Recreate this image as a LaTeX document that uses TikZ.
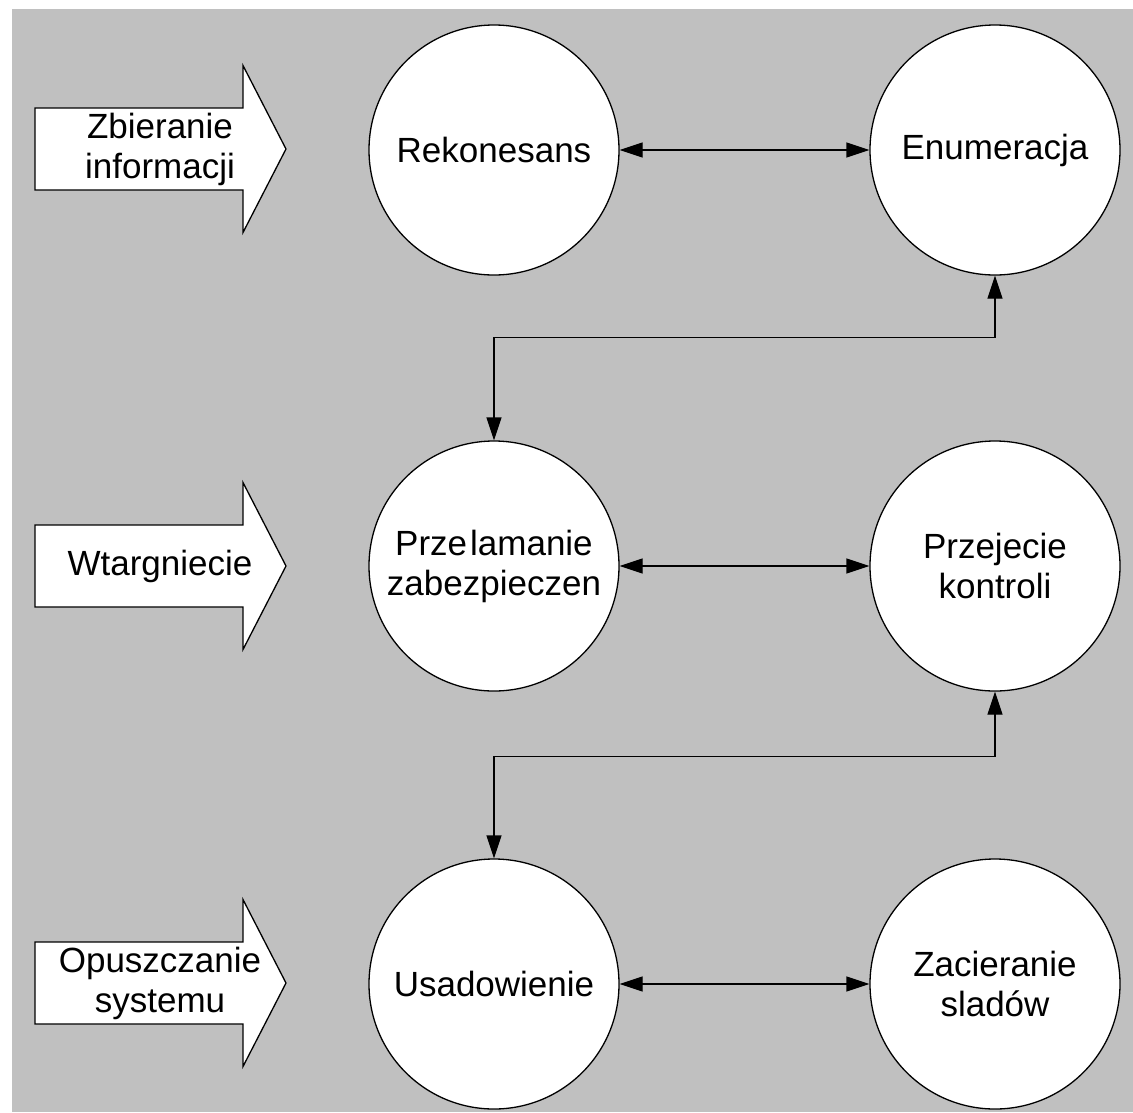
\documentclass[tikz,border=0pt]{standalone}
\usepackage{fontspec}
\setmainfont{Liberation Sans}
\usetikzlibrary{arrows.meta}
\definecolor{panelgray}{HTML}{C0C0C0}

\tikzset{
  stage/.style={circle, draw=black, fill=white, line width=1.3pt,
    minimum size=250pt, inner sep=0pt, align=center,
    font=\fontsize{35}{40}\selectfont},
  blockarrow/.style={draw=black, fill=white, line width=1.3pt, line join=miter},
  phasetext/.style={align=center, inner sep=0pt,
    font=\fontsize{35}{40}\selectfont},
  link/.style={line width=1.3pt, {Triangle[length=23pt,width=15pt]}-{Triangle[length=23pt,width=15pt]}}
}

% block arrow with its label: name, centre y, text
\newcommand{\phasearrow}[3]{%
  \draw[blockarrow] (35,#2-41) -- (243,#2-41) -- (243,#2-83.5) -- (286,#2)
    -- (243,#2+83.5) -- (243,#2+41) -- (35,#2+41) -- cycle;
  \node[phasetext] (#1) at (160,#2) {#3};
}

\begin{document}
\begin{tikzpicture}[x=1pt, y=-1pt]
  \useasboundingbox (0,0) rectangle (1133,1112);
  \fill[panelgray] (12,9) rectangle (1133,1112);

  % phases
  \phasearrow{gather}{149}{Zbieranie\\informacji}
  \phasearrow{intrude}{566}{Wtargniecie}
  \phasearrow{leave}{983}{Opuszczanie\\systemu}

  % stages
  \node[stage] (recon) at (494,150) {Rekonesans};
  \node[stage] (enum)  at (995,150) {Enumeracja};
  \node[stage] (breach) at (494,566) {Prze\kern3pt lamanie\\zabezpieczen};
  \node[stage] (takeover) at (995,566) {Przejecie\\kontroli};
  \node[stage] (settle) at (494,984) {Usadowienie};
  \node[stage] (cover) at (995,984) {Zacieranie\\sladów};

  % connectors
  \draw[link] (recon) -- (enum);
  \draw[link] (breach) -- (takeover);
  \draw[link] (settle) -- (cover);
  \draw[link] (enum.south) -- ++(0,62) -| (breach.north);
  \draw[link] (takeover.south) -- ++(0,65) -| (settle.north);
\end{tikzpicture}
\end{document}
